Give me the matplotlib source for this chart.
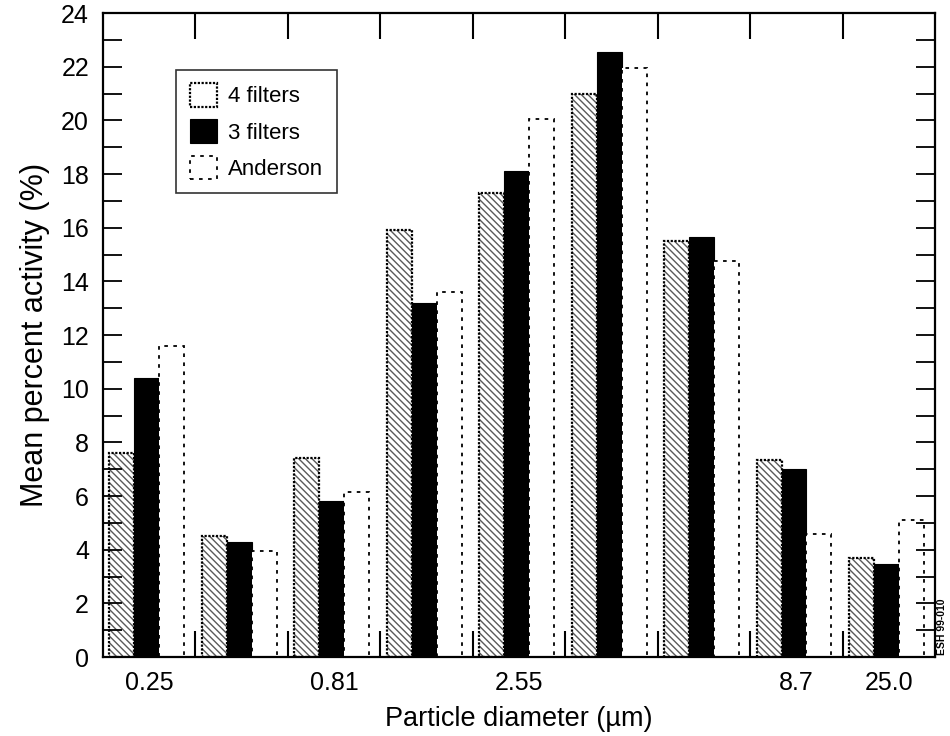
# grouped bars: mean percent activity by particle diameter

import numpy as np
import matplotlib.pyplot as plt
from matplotlib.ticker import MultipleLocator

plt.rcParams['font.family'] = ['Liberation Sans', 'DejaVu Sans']

sizes = ['0.25', '', '0.81', '', '2.55', '', '', '8.7', '25.0']
four_filters = [7.6, 4.5, 7.4, 15.9, 17.3, 21.0, 15.5, 7.35, 3.7]
three_filters = [10.4, 4.3, 5.8, 13.2, 18.1, 22.55, 15.65, 7.0, 3.45]
anderson = [11.6, 3.95, 6.15, 13.6, 20.05, 21.95, 14.75, 4.6, 5.1]

x = np.arange(len(sizes))
w = 0.27
c = x - 0.025  # bars sit a touch left of the group centre

fig = plt.figure(figsize=(9.5, 7.36), dpi=100)
ax = fig.add_axes([0.1084, 0.1073, 0.8758, 0.875])

# 4 filters: grey hatch fill, then black outline on top
ax.bar(c - w, four_filters, w, color='white', edgecolor='#5a5a5a', hatch='\\\\\\\\\\', linewidth=0)
b1 = ax.bar(c - w, four_filters, w, fill=False, edgecolor='black', linewidth=1.6,
            linestyle=(0, (1, 0.7)), label='4 filters')
b2 = ax.bar(c, three_filters, w, color='black', edgecolor='black', linewidth=0.8, label='3 filters')
b3 = ax.bar(c + w, anderson, w, color='white', edgecolor='black', linewidth=1.3,
            linestyle=(0, (2, 3)), label='Anderson')

ax.set_xlim(-0.5, len(sizes) - 0.5)
ax.set_ylim(0, 24)

ax.set_xticks(x)
ax.set_xticklabels(sizes, fontsize=18)
ax.set_xticks(x[:-1] + 0.5, minor=True)
ax.tick_params(axis='x', which='major', length=0, pad=10)
ax.tick_params(axis='x', which='minor', direction='in', length=19, width=1.5, top=True, bottom=True)

ax.yaxis.set_major_locator(MultipleLocator(2))
ax.yaxis.set_minor_locator(MultipleLocator(1))
ax.tick_params(axis='y', which='both', direction='in', length=14, width=1.3, right=True)
ax.tick_params(axis='y', which='major', labelsize=18, pad=10)

for s in ax.spines.values():
    s.set_linewidth(1.6)

ax.set_xlabel('Particle diameter (\u00b5m)', fontsize=19.5, labelpad=8)
ax.set_ylabel('Mean percent activity (%)', fontsize=22, labelpad=8)

leg = ax.legend(handles=[b1, b2, b3], loc='upper left', bbox_to_anchor=(0.088, 0.912),
                borderaxespad=0, fontsize=16, handlelength=1.25, handleheight=1.25,
                labelspacing=0.55, handletextpad=0.5, borderpad=0.6, fancybox=False)
leg.get_frame().set_edgecolor('black')
leg.get_frame().set_linewidth(1.2)

fig.text(0.986, 0.11, 'ESH 99-010', rotation=90, fontsize=7.5, fontweight='bold', ha='left', va='bottom')

fig.savefig('out.png', dpi=100)
